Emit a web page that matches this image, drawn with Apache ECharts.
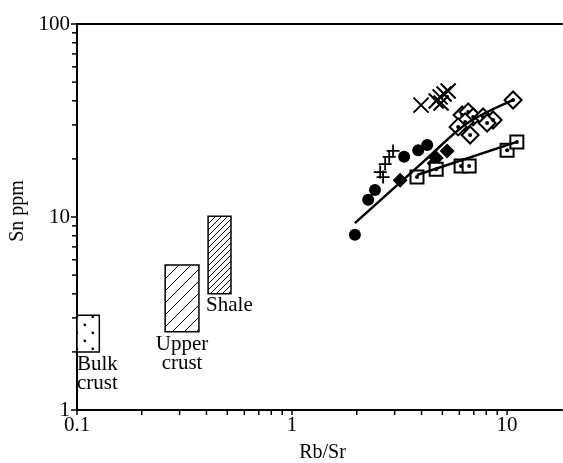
<!DOCTYPE html>
<html><head><meta charset="utf-8">
<script src="https://cdn.jsdelivr.net/npm/echarts@6/dist/echarts.min.js"></script>
<style>html,body{margin:0;padding:0;background:#fff}#c{width:563px;height:463px}</style>
</head><body><div id="c"></div>
<script>
// ---- data (Rb/Sr, Sn ppm) ----
const filledCircles = [[1.96,8.1],[2.26,12.3],[2.43,13.8],[3.32,20.5],[3.86,22.2],[4.25,23.6]];
const filledDiamonds = [[3.18,15.5],[4.58,19.0],[4.68,20.2],[5.26,22.0]];
const crosses = [[3.98,38.0],[4.68,39.9],[4.88,41.9],[5.09,43.4],[5.32,45.0],[4.93,39.0]];
const plusSigns = [[2.95,22.0],[2.83,20.5],[2.71,18.8],[2.57,17.1],[2.65,16.1]];
const dotDiamonds = [[10.66,40.4],[6.18,33.8],[6.59,35.0],[6.95,33.0],[6.38,31.1],[5.92,29.3],[7.73,33.0],[8.61,31.8],[8.07,30.7],[6.73,26.6]];
const dotSquares = [[3.81,16.1],[4.68,17.7],[6.11,18.4],[6.66,18.4],[10.0,22.2],[11.1,24.5]];
const upperFit = [[1.96,9.3],[4.16,19.7],[6.5,30.5],[10.7,40.4]];
const lowerFit = [[3.81,16.5],[11.1,24.5]];
// reference boxes: [xMin, xMax, yMin, yMax]
const boxes = [[0.1,0.127,2.0,3.1],[0.257,0.369,2.54,5.64],[0.407,0.52,4.0,10.1]];
const boxLabels = ['Bulk\ncrust','Upper\ncrust','Shale'];
// ticks
const xTickVals = [0.1,0.2,0.3,0.4,0.5,0.6,0.7,0.8,0.9,1,2,3,4,5,6,7,8,9,10];
const yTickVals = [1,2,3,4,5,6,7,8,9,10,20,30,40,50,60,70,80,90,100];
const xTickLabels = {'-1':'0.1','0':'1','1':'10'};
const yTickLabels = {'0':'1','1':'10','2':'100'};

const FONT = 'Liberation Serif';

function hatch(size){
  const c=document.createElement('canvas'); c.width=c.height=size;
  const g=c.getContext('2d'); g.fillStyle='#fff'; g.fillRect(0,0,size,size);
  g.strokeStyle='#000'; g.lineWidth=1; g.beginPath();
  for (const k of [0,size,2*size]) { g.moveTo(k+2,-2); g.lineTo(-2,k+2); }
  g.stroke(); return c;
}
function dots(size){
  const c=document.createElement('canvas'); c.width=c.height=size;
  const g=c.getContext('2d'); g.fillStyle='#fff'; g.fillRect(0,0,size,size);
  g.fillStyle='#000';
  g.beginPath(); g.arc(size*0.3,size*0.3,1.4,0,Math.PI*2); g.fill();
  g.beginPath(); g.arc(size*0.8,size*0.8,1.4,0,Math.PI*2); g.fill();
  return c;
}
const patterns = [
  {image: dots(16), repeat:'repeat'},
  {image: hatch(12), repeat:'repeat'},
  {image: hatch(6), repeat:'repeat'}
];
const labelPlace = [
  {align:'left', dx:0, dy:3},
  {align:'center', dx:0, dy:3},
  {align:'left', dx:-2, dy:2}
];

function isPow10(v){ const l=Math.log10(v); return Math.abs(l-Math.round(l))<1e-6 ? String(Math.round(l)) : null; }

const chart = echarts.init(document.getElementById('c'), null, {renderer:'canvas'});
const markerBase = {type:'scatter', xAxisIndex:0, yAxisIndex:0, z:3};
chart.setOption({
  animation:false,
  backgroundColor:'#fff',
  grid:{left:77, right:1, top:24, bottom:53, containLabel:false, outerBoundsMode:'none'},
  xAxis:[{
    type:'log', logBase:10, min:0.1, max:18,
    name:'Rb/Sr', nameLocation:'middle', nameGap:33,
    nameTextStyle:{fontFamily:FONT, fontSize:20, color:'#000', padding:[0,0,0,6]},
    axisLine:{show:true, lineStyle:{color:'#000', width:2}},
    axisTick:{show:false}, splitLine:{show:false},
    axisLabel:{margin:5, fontFamily:FONT, fontSize:21, color:'#000',
      formatter:v=>{const k=isPow10(v); return k!==null && xTickLabels[k] ? xTickLabels[k] : '';}}
  },{
    type:'log', logBase:10, min:0.1, max:18, position:'top',
    axisLine:{show:true, onZero:false, lineStyle:{color:'#000', width:2}},
    axisTick:{show:false}, axisLabel:{show:false}, splitLine:{show:false}
  }],
  yAxis:{
    type:'log', logBase:10, min:1, max:100,
    name:'Sn ppm', nameLocation:'middle', nameGap:36, nameRotate:90,
    nameTextStyle:{fontFamily:FONT, fontSize:20, color:'#000', padding:[0,0,0,12]},
    axisLine:{show:true, lineStyle:{color:'#000', width:2}},
    axisTick:{show:false}, splitLine:{show:false},
    axisLabel:{margin:7, fontFamily:FONT, fontSize:21, color:'#000',
      formatter:v=>{const k=isPow10(v); return k!==null && yTickLabels[k] ? yTickLabels[k] : '';}}
  },
  series:[
    {type:'custom', silent:true, clip:false, z:1, data:xTickVals.map(v=>[v,1]),
      renderItem:(p,api)=>{const c=api.coord([api.value(0),1]);
        return {type:'line', shape:{x1:c[0],y1:c[1],x2:c[0],y2:c[1]+5}, style:{stroke:'#000', lineWidth:1.5}};}},
    {type:'custom', silent:true, clip:false, z:1, data:yTickVals.map(v=>[0.1,v]),
      renderItem:(p,api)=>{const v=api.value(1); const c=api.coord([0.1,v]);
        const len = isPow10(v)!==null ? 6 : 5;
        return {type:'line', shape:{x1:c[0]-len,y1:c[1],x2:c[0],y2:c[1]}, style:{stroke:'#000', lineWidth:1.5}};}},
    {type:'custom', silent:true, clip:false, z:2, data:boxes, encode:{x:[0,1], y:[2,3]},
      renderItem:(params,api)=>{
        const i=params.dataIndex;
        const p1=api.coord([api.value(0),api.value(3)]), p2=api.coord([api.value(1),api.value(2)]);
        const lp=labelPlace[i];
        const tx = lp.align==='center' ? (p1[0]+p2[0])/2 : p1[0]+lp.dx;
        return {type:'group', children:[
          {type:'rect', shape:{x:p1[0],y:p1[1],width:p2[0]-p1[0],height:p2[1]-p1[1]},
            style:{fill:patterns[i], stroke:'#000', lineWidth:1.5}},
          {type:'text', x:tx, y:p2[1]+lp.dy,
            style:{text:boxLabels[i], fontFamily:FONT, fontSize:21, lineHeight:19, fill:'#000', align:lp.align, verticalAlign:'top'}}
        ]};
      }},
    {type:'line', data:upperFit, smooth:0.3, symbol:'none', z:4, lineStyle:{color:'#000', width:2.5}},
    {type:'line', data:lowerFit, symbol:'none', z:4, lineStyle:{color:'#000', width:2.5}},
    Object.assign({}, markerBase, {data:filledCircles, symbol:'circle', symbolSize:12, itemStyle:{color:'#000', opacity:1}}),
    Object.assign({}, markerBase, {data:filledDiamonds, symbol:'diamond', symbolSize:15, itemStyle:{color:'#000', opacity:1}}),
    Object.assign({}, markerBase, {data:crosses, symbol:'path://M0,0L10,10M10,0L0,10', symbolSize:15,
      itemStyle:{color:'transparent', borderColor:'#000', borderWidth:2, opacity:1}}),
    Object.assign({}, markerBase, {data:plusSigns, symbol:'path://M5,0L5,10M0,5L10,5', symbolSize:13,
      itemStyle:{color:'transparent', borderColor:'#000', borderWidth:1.8, opacity:1}}),
    Object.assign({}, markerBase, {data:dotDiamonds, symbol:'diamond', symbolSize:17,
      itemStyle:{color:'#fff', borderColor:'#000', borderWidth:2, opacity:1}}),
    Object.assign({}, markerBase, {data:dotDiamonds, symbol:'circle', symbolSize:4, z:5, itemStyle:{color:'#000', opacity:1}}),
    Object.assign({}, markerBase, {data:dotSquares, symbol:'rect', symbolSize:13,
      itemStyle:{color:'#fff', borderColor:'#000', borderWidth:2, opacity:1}}),
    Object.assign({}, markerBase, {data:dotSquares, symbol:'circle', symbolSize:4, z:5, itemStyle:{color:'#000', opacity:1}})
  ]
});
</script></body></html>
